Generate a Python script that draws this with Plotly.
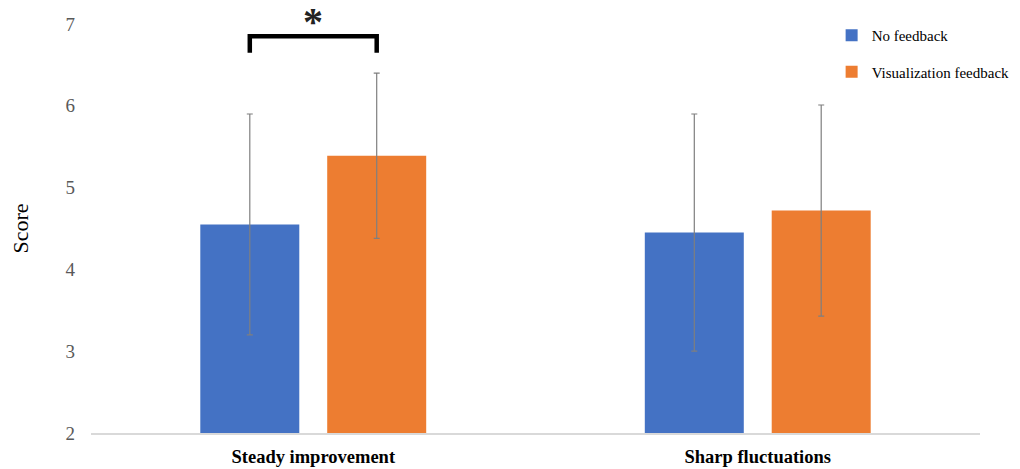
import plotly.graph_objects as go

categories = ["Steady improvement", "Sharp fluctuations"]
no_feedback = [4.55, 4.45]
no_feedback_err = [1.35, 1.45]
vis_feedback = [5.39, 4.72]
vis_feedback_err = [1.01, 1.29]
series_names = ["No feedback", "Visualization feedback"]
colors = ["#4472C4", "#ED7D31"]

SERIF = "Liberation Serif, Times New Roman, serif"

bargap = 0.429
bargroupgap = 0.22
# centre offset of each bar within its category (category units)
slot = (1 - bargap) / 2
off = slot / 2

fig = go.Figure()
for i, (vals, errs) in enumerate([(no_feedback, no_feedback_err), (vis_feedback, vis_feedback_err)]):
    fig.add_trace(go.Bar(
        x=categories, y=vals, name=series_names[i],
        marker=dict(color=colors[i], line=dict(width=0)),
        error_y=dict(type="data", array=errs, visible=True, color="#7f7f7f", thickness=1.2, width=3),
        legendgroup=f"g{i}",
    ))

# significance bracket
fig.add_shape(type="path", xref="x", yref="y",
              path=f"M {-off},6.65 L {-off},6.85 L {off},6.85 L {off},6.65",
              line=dict(color="black", width=4.5))
fig.add_annotation(x=0, y=1.005, xref="x", yref="paper", text="<b>*</b>", showarrow=False,
                   font=dict(family=SERIF, size=40, color="#222222"),
                   yanchor="middle")

fig.update_layout(
    width=1060, height=461,
    paper_bgcolor="white", plot_bgcolor="white",
    margin=dict(l=82.5, r=87.5, t=15, b=36),
    bargap=bargap, bargroupgap=bargroupgap,
    barmode="group",
    font=dict(family=SERIF, size=15, color="#595959"),
    legend=dict(x=0.8331, y=1.01, xanchor="left", yanchor="top",
                font=dict(family=SERIF, size=15, color="black"),
                tracegroupgap=14, bgcolor="rgba(0,0,0,0)", itemwidth=30),
    showlegend=True,
)
fig.update_xaxes(showline=True, linecolor="#d9d9d9", linewidth=1.5, showgrid=False,
                 automargin=False,
                 ticks="", tickfont=dict(family=SERIF, size=18.5, color="black"),
                 ticklabelstandoff=6,
                 tickvals=categories, ticktext=[f"<b>{c}</b>" for c in categories])
fig.update_yaxes(range=[2, 7], dtick=1, showgrid=False, showline=False, zeroline=False,
                 automargin=False,
                 ticks="", ticklabelstandoff=15,
                 tickfont=dict(family=SERIF, size=19, color="#595959"),
                 title=dict(text="Score", font=dict(family=SERIF, size=22, color="black"),
                            standoff=33))
fig.write_html("out.html")
